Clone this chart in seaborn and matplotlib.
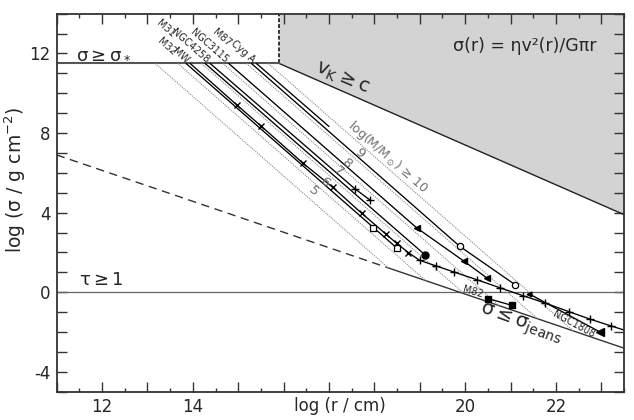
import numpy as np
import pandas as pd
import matplotlib
matplotlib.use('Agg')
import matplotlib.pyplot as plt
import seaborn as sns

# --- values: log r [cm] vs log sigma [g cm^-2] ---
x_lim = (11.0, 23.5)
y_lim = (-5.0, 14.0)

sigma_star = 11.5      # sigma >= sigma_* ceiling
r_corner = 15.9        # sigma_* meets v_K = c
vk_slope = -1.0
jeans_at_11 = 6.9      # sigma_jeans at log r = 11
jeans_slope = -0.777
jeans_break = 18.34    # dashed -> solid
kepler_slope = -2.0

iso_mass = [5, 6, 7, 8, 9, 10]
iso_start = [13.17, 13.67, 14.19, 14.66, 15.18, 15.66]
iso_label_x = [16.65, 16.91, 17.20, 17.39, 17.68, 18.30]
iso_label_y = [5.06, 5.51, 6.06, 6.48, 6.98, 6.81]

m32_r = [13.85, 17.98, 18.50]
m32_s = [11.50, 3.25, 2.21]
m32_mk = ['', 'open_sq', 'open_sq']

mw_r = [13.94, 14.97, 15.50, 16.43, 17.08, 17.72, 18.25, 18.49, 18.75, 19.00,
        19.35, 19.76, 20.27, 20.77, 21.27, 21.77, 22.28, 22.76, 23.21, 23.50]
mw_s = [11.50, 9.41, 8.36, 6.48, 5.28, 3.97, 2.93, 2.46, 1.99, 1.60,
        1.33, 1.01, 0.62, 0.22, -0.17, -0.55, -0.97, -1.36, -1.69, -1.90]
mw_mk = [''] + ['x'] * 8 + ['+'] * 10 + ['']

m31_r = [14.27, 19.11]
m31_s = [11.50, 1.89]
m31_mk = ['', 'dot']

n4258_r = [14.38, 17.57, 17.90]
n4258_s = [11.50, 5.20, 4.64]
n4258_mk = ['', '+', '+']

n3115_r = [14.79, 18.93, 19.98, 20.49]
n3115_s = [11.50, 3.24, 1.55, 0.70]
n3115_mk = ['', 'tri', 'tri', 'tri']

m87_r = [15.29, 19.88, 21.10]
m87_s = [11.50, 2.31, 0.38]
m87_mk = ['', 'open_o', 'open_o']

cyga_r = [15.40, 17.00]
cyga_s = [11.50, 8.33]
cyga_mk = ['', '']

m82_r = [20.51, 21.03]
m82_s = [-0.32, -0.66]
m82_mk = ['sq', 'sq']

n1808_r = [21.40, 22.98]
n1808_s = [-0.07, -2.01]
n1808_mk = ['tri_s', 'tri_l']

top_names = ['M32', 'MW', 'M31', 'NGC4258', 'NGC3115', 'M87', 'Cyg A']
top_label_y = [12.0, 11.6, 12.9, 11.6, 11.6, 12.45, 11.6]

galaxies = {
    'M32': (m32_r, m32_s, m32_mk),
    'MW': (mw_r, mw_s, mw_mk),
    'M31': (m31_r, m31_s, m31_mk),
    'NGC4258': (n4258_r, n4258_s, n4258_mk),
    'NGC3115': (n3115_r, n3115_s, n3115_mk),
    'M87': (m87_r, m87_s, m87_mk),
    'Cyg A': (cyga_r, cyga_s, cyga_mk),
    'M82': (m82_r, m82_s, m82_mk),
    'NGC1808': (n1808_r, n1808_s, n1808_mk),
}

marker_styles = {
    'x': dict(marker='x', ms=5, mew=1.0),
    '+': dict(marker='+', ms=6, mew=1.0),
    'open_sq': dict(marker='s', ms=4, mfc='white', mew=0.9),
    'sq': dict(marker='s', ms=4.5, mfc='black'),
    'open_o': dict(marker='o', ms=4.5, mfc='white', mew=0.9),
    'dot': dict(marker='o', ms=5, mfc='black'),
    'tri': dict(marker='<', ms=4, mfc='black'),
    'tri_s': dict(marker='<', ms=3.5, mfc='black'),
    'tri_l': dict(marker='<', ms=5.5, mfc='black'),
}

sns.set_style('ticks')
plt.rcParams['font.family'] = ['DejaVu Sans']
plt.rcParams['mathtext.default'] = 'regular'

fig = plt.figure(figsize=(6.34, 4.2), dpi=100)
ax = fig.add_axes([0.0894, 0.0674, 0.8948, 0.90])
ax.set_xlim(*x_lim)
ax.set_ylim(*y_lim)

# forbidden region above v_K = c
xs = np.array([r_corner, x_lim[1]])
ax.fill_between(xs, sigma_star + vk_slope * (xs - r_corner), y_lim[1],
                color='#d3d3d3', lw=0, zorder=0)
ax.plot(xs, sigma_star + vk_slope * (xs - r_corner), color='#222222', lw=1.0)
ax.plot([r_corner, r_corner], [sigma_star, y_lim[1]], color='#333333',
        lw=1.4, ls=(0, (2, 1)))
ax.plot([x_lim[0], r_corner], [sigma_star, sigma_star], color='#555555', lw=1.5)

# tau = 1
ax.axhline(0, color='#666666', lw=0.9)

# Jeans limit
def jeans(x):
    return jeans_at_11 + jeans_slope * (np.asarray(x) - 11.0)

xd = np.array([x_lim[0], jeans_break])
xsol = np.array([jeans_break, x_lim[1]])
ax.plot(xd, jeans(xd), color='#333333', lw=1.0, ls=(0, (6, 4)))
ax.plot(xsol, jeans(xsol), color='#333333', lw=1.0)

# iso-mass (Keplerian) lines from sigma_* down to the Jeans line
rows = []
for m, s0 in zip(iso_mass, iso_start):
    x_end = (sigma_star - kepler_slope * s0 - jeans_at_11 + 11.0 * jeans_slope) / (jeans_slope - kepler_slope)
    rows.append({'mass': m, 'r': s0, 's': sigma_star})
    rows.append({'mass': m, 'r': x_end, 's': sigma_star + kepler_slope * (x_end - s0)})
iso_df = pd.DataFrame(rows)
sns.lineplot(data=iso_df, x='r', y='s', units='mass', estimator=None,
             color='#8c8c8c', lw=0.8, ls=(0, (1, 1)), legend=False, ax=ax)

kep_angle = np.degrees(np.arctan(kepler_slope))
for m, lx, ly in zip(iso_mass, iso_label_x, iso_label_y):
    txt = 'log(M/M$_\\odot$) ≥ 10' if m == 10 else str(m)
    ax.text(lx, ly, txt, color='#707070', fontsize=9 if m == 10 else 9.5,
            rotation=kep_angle, transform_rotates_text=True,
            rotation_mode='anchor', ha='center', va='center')

# galaxy curves
gal_rows = []
for name, (r, s, mk) in galaxies.items():
    for ri, si, mi in zip(r, s, mk):
        gal_rows.append({'galaxy': name, 'r': ri, 's': si, 'mk': mi})
gal_df = pd.DataFrame(gal_rows)
sns.lineplot(data=gal_df, x='r', y='s', units='galaxy', estimator=None,
             sort=False, color='black', lw=0.95, legend=False, ax=ax)

for code, grp in gal_df[gal_df['mk'] != ''].groupby('mk'):
    ax.plot(grp['r'], grp['s'], ls='none', color='black', mec='black',
            zorder=5, **marker_styles[code])

for name, ly in zip(top_names, top_label_y):
    r0 = galaxies[name][0][0]
    lx = r0 - (ly - sigma_star) / (-kepler_slope)
    ax.text(lx, ly, name, fontsize=7, rotation=kep_angle,
            transform_rotates_text=True, rotation_mode='anchor',
            ha='right', va='center')

m82_angle = np.degrees(np.arctan((m82_s[1] - m82_s[0]) / (m82_r[1] - m82_r[0])))
ax.text(20.18, 0.0, 'M82', fontsize=7, rotation=m82_angle,
        transform_rotates_text=True, rotation_mode='anchor',
        ha='center', va='center')
n1808_angle = np.degrees(np.arctan((n1808_s[1] - n1808_s[0]) / (n1808_r[1] - n1808_r[0])))
ax.text(22.39, -1.59, 'NGC1808', fontsize=7, rotation=n1808_angle,
        transform_rotates_text=True, rotation_mode='anchor',
        ha='center', va='center')

# region labels
ax.text(11.43, 11.75, r'$\sigma \geq \sigma_*$', fontsize=13, va='baseline')
ax.text(11.5, 0.15, r'$\tau \geq 1$', fontsize=13, va='bottom')
ax.text(22.9, 12.1, 'σ(r) = ηv²(r)/Gπr', fontsize=12.5, ha='right', va='baseline')
ax.text(17.29, 10.75, r'$v_K \geq c$', fontsize=14, rotation=-23,
        rotation_mode='anchor', ha='center', va='center')
ax.text(21.22, -1.6, r'$\sigma \leq \sigma_{jeans}$', fontsize=14, rotation=-20,
        rotation_mode='anchor', ha='center', va='center')

# axes cosmetics
xt = np.arange(11, 24)
ax.set_xticks(xt)
ax.set_xticklabels([str(v) if v in (12, 14, 20, 22) else '' for v in xt])
ax.set_xticks(np.arange(11, 23.51, 0.5), minor=True)
yt = np.arange(-5, 15)
ax.set_yticks(yt)
ax.set_yticklabels([str(v) if v % 4 == 0 else '' for v in yt])
ax.tick_params(which='both', direction='in', top=True, right=True,
               width=1.0, color='#333333', labelsize=12, pad=4.5)
ax.tick_params(which='major', length=7.5)
ax.tick_params(which='minor', length=3)
for sp in ax.spines.values():
    sp.set_linewidth(1.3)
    sp.set_color('#333333')

ax.set_xlabel('log (r / cm)', fontsize=12)
ax.xaxis.set_label_coords(0.5, -0.013)
ax.set_ylabel(r'log ($\sigma$ / g cm$^{-2}$)', fontsize=13.5)
ax.yaxis.set_label_coords(-0.05, 0.56)

fig.savefig('out.png', dpi=100)
plt.close(fig)
